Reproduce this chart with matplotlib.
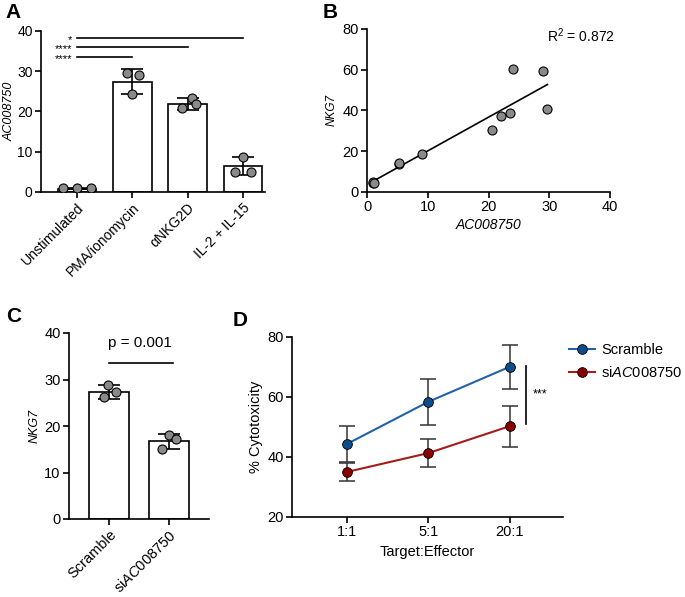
import numpy as np
import matplotlib
matplotlib.use("Agg")
import matplotlib.pyplot as plt

plt.rcParams["font.family"] = ["Liberation Sans", "DejaVu Sans"]
plt.rcParams["mathtext.fontset"] = "custom"
plt.rcParams["mathtext.rm"] = "Liberation Sans"
plt.rcParams["mathtext.it"] = "Liberation Sans:italic"
plt.rcParams["axes.linewidth"] = 1.2
plt.rcParams["xtick.major.width"] = 1.2
plt.rcParams["ytick.major.width"] = 1.2
plt.rcParams["xtick.major.size"] = 4
plt.rcParams["ytick.major.size"] = 4

# ---- panel A data
a_groups = ["Unstimulated", "PMA/ionomycin", "\u03b1NKG2D", "IL-2 + IL-15"]
a_mean = [0.8, 27.4, 21.9, 6.4]
a_err = [0.1, 3.1, 1.5, 2.2]
a_points = [[0.9, 0.9, 0.9], [29.5, 29.1, 24.3], [23.3, 20.9, 21.8], [8.8, 4.9, 4.9]]
a_sig_y = [38.3, 36.0, 33.6]
a_sig_to = [3, 2, 1]
a_sig_txt = ["*", "****", "****"]

# ---- panel B data
b_x = [1.0, 1.0, 1.1, 24.1, 29.0, 29.7, 23.5, 20.5, 22.0, 9.0, 5.2, 5.3]
b_y = [4.2, 5.0, 4.6, 60.5, 59.5, 40.5, 38.7, 30.6, 37.5, 18.5, 13.5, 14.0]
b_r2 = 0.872

# ---- panel C data
c_groups = ["Scramble", "siAC008750"]
c_mean = [27.3, 16.7]
c_err = [1.5, 1.6]
c_points = [[28.8, 27.3, 26.2], [18.0, 17.2, 15.1]]
c_p = "p = 0.001"

# ---- panel D data
d_ratios = ["1:1", "5:1", "20:1"]
d_scr = [44.3, 58.4, 70.1]
d_scr_err = [6.0, 7.7, 7.3]
d_si = [35.0, 41.3, 50.3]
d_si_err = [3.1, 4.7, 6.8]

W, H = 685, 597
fig = plt.figure(figsize=(W / 100, H / 100), dpi=100)


def px_axes(l, r, t, b):
    return fig.add_axes([l / W, (H - b) / H, (r - l) / W, (b - t) / H])


def style(ax, size=10.5):
    ax.spines["top"].set_visible(False)
    ax.spines["right"].set_visible(False)
    ax.tick_params(labelsize=size, colors="black", pad=2)


point_kw = dict(marker="o", ms=6.5, mfc="#8a8a8a", mec="black", mew=0.8, ls="none", zorder=4)

# ---- A
ax = px_axes(41, 265, 31, 192)
style(ax, 10)
xa = np.arange(len(a_groups))
ax.bar(xa, a_mean, width=0.7, color="white", edgecolor="black", linewidth=1.2, zorder=2)
ax.errorbar(xa, a_mean, yerr=a_err, fmt="none", ecolor="black", elinewidth=1.2,
            capsize=8, capthick=1.2, zorder=3)
a_offs = [[-0.25, 0.0, 0.25], [-0.1, 0.12, 0.0], [0.08, -0.1, 0.15], [0.0, -0.15, 0.15]]
for i, pts in enumerate(a_points):
    ax.plot(np.array(a_offs[i]) + i, pts, **point_kw)
for y, j, t in zip(a_sig_y, a_sig_to, a_sig_txt):
    ax.plot([0, j], [y, y], color="black", lw=1.2, clip_on=False)
    ax.text(-0.09, y - 0.6, t, ha="right", va="center", fontsize=8)
ax.set_xlim(-0.65, 3.4)
ax.set_ylim(0, 40)
ax.set_yticks([0, 10, 20, 30, 40])
ax.set_xticks(xa)
ax.set_xticklabels(a_groups, rotation=45, ha="right", rotation_mode="anchor", fontsize=10)
ax.set_ylabel("AC008750", style="italic", fontsize=9, labelpad=1)

# ---- B
ax = px_axes(367, 610, 29, 192)
style(ax)
slope, icpt = np.polyfit(b_x, b_y, 1)
xl = np.array([min(b_x), max(b_x)])
ax.plot(xl, slope * xl + icpt, color="black", lw=1.2, zorder=2)
ax.plot(b_x, b_y, **point_kw)
ax.set_xlim(0, 40)
ax.set_ylim(0, 80)
ax.set_xticks([0, 10, 20, 30, 40])
ax.set_yticks([0, 20, 40, 60, 80])
ax.set_xlabel("AC008750", style="italic", fontsize=10, labelpad=3)
ax.set_ylabel("NKG7", style="italic", fontsize=8.5, labelpad=3)
ax.text(40.8, 76.5, f"R$^2$ = {b_r2}", ha="right", va="center", fontsize=10)

# ---- C
ax = px_axes(69, 209, 333, 519)
style(ax)
xc = np.arange(len(c_groups))
ax.bar(xc, c_mean, width=0.68, color="white", edgecolor="black", linewidth=1.2, zorder=2)
ax.errorbar(xc, c_mean, yerr=c_err, fmt="none", ecolor="black", elinewidth=1.2,
            capsize=8, capthick=1.2, zorder=3)
c_offs = [[-0.02, 0.11, -0.08], [0.0, 0.12, -0.12]]
for i, pts in enumerate(c_points):
    ax.plot(np.array(c_offs[i]) + i, pts, **point_kw)
ax.plot([0, 1.07], [33.6, 33.6], color="black", lw=1.2)
ax.text(0.52, 37.8, c_p, ha="center", va="center", fontsize=11)
ax.set_xlim(-0.67, 1.67)
ax.set_ylim(0, 40)
ax.set_yticks([0, 10, 20, 30, 40])
ax.set_xticks(xc)
ax.set_xticklabels(["Scramble", "si$\\mathit{AC008750}$"], rotation=45, ha="right",
                   rotation_mode="anchor", fontsize=10.5)
ax.set_ylabel("NKG7", style="italic", fontsize=9, labelpad=3)

# ---- D
ax = px_axes(292, 563, 337, 517)
style(ax)
xd = np.arange(len(d_ratios))
ax.errorbar(xd, d_scr, yerr=d_scr_err, fmt="none", ecolor="#333333", elinewidth=1.1,
            capsize=6, capthick=1.1, zorder=2)
ax.errorbar(xd, d_si, yerr=d_si_err, fmt="none", ecolor="#333333", elinewidth=1.1,
            capsize=6, capthick=1.1, zorder=2)
ax.plot(xd, d_scr, "-o", color="#2462a8", mfc="#0e4c8c", mec="black", mew=0.6, ms=7,
        lw=1.5, zorder=3, label="Scramble")
ax.plot(xd, d_si, "-o", color="#a31c1c", mfc="#880000", mec="black", mew=0.6, ms=7,
        lw=1.5, zorder=3, label="si$\\mathit{AC008750}$")
ax.plot([2.2, 2.2], [70.4, 51], color="black", lw=1.2, clip_on=False)
ax.text(2.28, 61.0, "***", ha="left", va="center", fontsize=9)
ax.set_xlim(-0.67, 2.65)
ax.set_ylim(20, 80)
ax.set_yticks([20, 40, 60, 80])
ax.set_xticks(xd)
ax.set_xticklabels(d_ratios)
ax.set_xlabel("Target:Effector", fontsize=10.5, labelpad=4)
ax.set_ylabel("% Cytotoxicity", fontsize=10.5, labelpad=3)
ax.legend(loc="upper left", bbox_to_anchor=(0.98, 1.03), frameon=False, fontsize=10.5,
          handlelength=1.8, handletextpad=0.4, labelspacing=0.55, borderpad=0.3)

# ---- panel letters
for lab, x, y in [("A", 13, 12), ("B", 330, 12), ("C", 14, 317), ("D", 240, 321)]:
    fig.text(x / W, 1 - y / H, lab, fontsize=15, fontweight="bold", ha="center", va="center")

fig.savefig("out.png", dpi=100)
